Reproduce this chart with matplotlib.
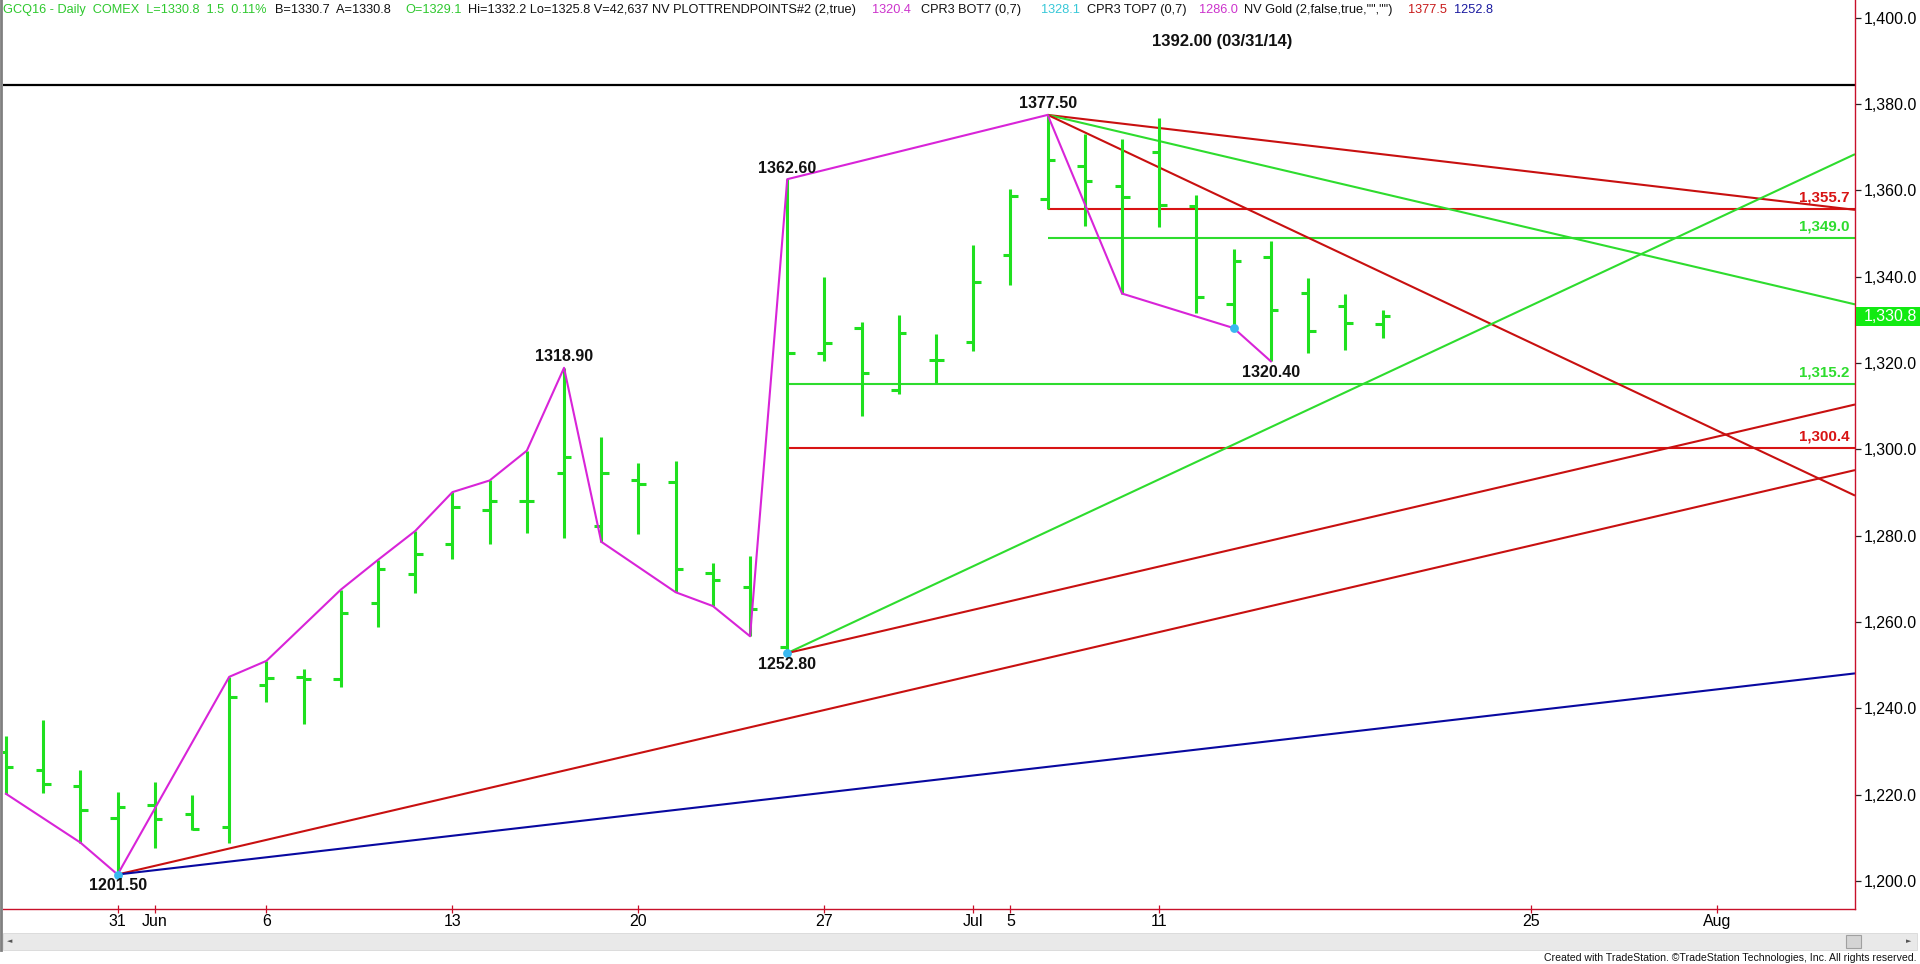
import matplotlib
matplotlib.use('Agg')
import matplotlib.pyplot as plt
import matplotlib.transforms as mtransforms
from matplotlib.patches import Rectangle
from matplotlib.lines import Line2D

plt.rcParams['font.family'] = ['Liberation Sans', 'DejaVu Sans']

# daily bars, index 0 = 25 May 2016 (trading days only)
opens = [1229.9, 1225.7, 1222.0, 1214.7, 1217.5, 1215.6, 1212.4, 1245.3, 1247.3, 1246.7,
         1264.3, 1271.2, 1278.1, 1285.9, 1288.0, 1294.6, 1282.2, 1293.0, 1292.5, 1271.4,
         1268.0, 1254.1, 1322.3, 1328.2, 1313.7, 1320.8, 1324.9, 1345.1, 1358.1, 1365.6,
         1361.1, 1368.9, 1356.3, 1333.8, 1344.5, 1336.3, 1333.3, 1329.1]
highs = [1233.5, 1237.2, 1225.7, 1220.7, 1223.0, 1220.0, 1247.3, 1251.0, 1249.2, 1267.5,
         1274.4, 1281.1, 1290.1, 1292.8, 1299.7, 1318.9, 1302.9, 1296.9, 1297.4, 1273.7,
         1275.2, 1362.6, 1340.0, 1329.6, 1331.2, 1326.7, 1347.3, 1360.4, 1377.5, 1373.1,
         1371.9, 1376.8, 1359.0, 1346.4, 1348.2, 1339.6, 1336.1, 1332.2]
lows = [1220.2, 1220.4, 1208.9, 1201.5, 1207.6, 1211.7, 1208.7, 1241.5, 1236.3, 1245.0,
        1258.8, 1266.8, 1274.7, 1278.1, 1280.7, 1279.5, 1278.6, 1280.4, 1266.9, 1263.7,
        1256.7, 1252.8, 1320.4, 1307.8, 1312.8, 1315.4, 1322.7, 1338.2, 1355.7, 1351.7,
        1336.1, 1351.5, 1331.5, 1328.1, 1320.4, 1322.3, 1323.0, 1325.8]
closes = [1226.4, 1222.5, 1216.5, 1217.2, 1214.4, 1212.1, 1242.7, 1247.1, 1246.7, 1262.0,
          1272.4, 1275.8, 1286.6, 1288.0, 1288.0, 1298.3, 1294.6, 1291.9, 1272.3, 1269.8,
          1263.0, 1322.3, 1324.6, 1317.7, 1326.9, 1320.6, 1338.8, 1358.8, 1367.0, 1362.2,
          1358.5, 1356.6, 1335.3, 1343.6, 1332.2, 1327.5, 1329.2, 1330.8]

date_idx = [3, 4, 7, 12, 17, 22, 26, 27, 31, 41, 46]
date_labels = ['31', 'Jun', '6', '13', '20', '27', 'Jul', '5', '11', '25', 'Aug']

# swing line through highs (H) / lows (L)
zig_idx = [0, 2, 3, 6, 7, 9, 10, 11, 12, 13, 14, 15, 16, 18, 19, 20, 21, 28, 30, 33, 34]
zig_side = ['L', 'L', 'L', 'H', 'H', 'H', 'H', 'H', 'H', 'H', 'H', 'H', 'L', 'L', 'L', 'L',
            'H', 'H', 'L', 'L', 'L']

pivot_idx = [3, 15, 21, 21, 28, 34]
pivot_side = ['L', 'H', 'H', 'L', 'H', 'L']
dot_idx = [3, 21, 33]

level_values = [1355.7, 1349.0, 1315.2, 1300.4]
level_start = [28, 28, 21, 21]
level_colors = ['#d81414', '#2edc2e', '#2edc2e', '#d81414']

# trend lines: start bar, start price, price at right edge
trend_start = [28, 28, 28, 21, 21, 3, 3]
trend_p0 = [1377.5, 1377.5, 1377.5, 1252.8, 1252.8, 1201.5, 1201.5]
trend_p1 = [1355.5, 1333.6, 1289.3, 1368.4, 1310.4, 1295.2, 1248.1]
trend_colors = ['#c81010', '#2edc2e', '#c81010', '#2edc2e', '#c81010', '#c81010', '#0808a0']

old_high = 1384.4
last_price = 1330.8

W, H = 1920, 964
X_LEFT, X_RIGHT = -0.08, 49.70
RED_AX = '#c8102a'
BAR_GREEN = '#1fe01f'

fig = plt.figure(figsize=(19.2, 9.64), dpi=100)
ax = fig.add_axes([3 / W, 1 - 908.7 / H, (1855 - 3) / W, 908.7 / H])
ax.set_xlim(X_LEFT, X_RIGHT)
ax.set_ylim(1193.58, 1404.12)

# horizontal reference / levels
ax.hlines(old_high, X_LEFT, X_RIGHT, color='black', lw=1.6, zorder=2)
for v, s, c in zip(level_values, level_start, level_colors):
    ax.hlines(v, s, X_RIGHT, color=c, lw=1.5, zorder=2)
    ax.annotate(f'{v:,.1f}', (X_RIGHT - 0.15, v), xytext=(0, 3), textcoords='offset points',
                ha='right', va='bottom', color=c, fontsize=10.9, fontweight='bold', zorder=6)

for s, p0, p1, c in zip(trend_start, trend_p0, trend_p1, trend_colors):
    ax.plot([s, X_RIGHT], [p0, p1], color=c, lw=1.5, zorder=2, solid_capstyle='butt')

# OHLC bars
xs = list(range(len(opens)))
ax.vlines(xs, lows, highs, color=BAR_GREEN, lw=2.2, zorder=3)
ax.hlines(opens, [x - 0.2 for x in xs], xs, color=BAR_GREEN, lw=2.2, zorder=3)
ax.hlines(closes, xs, [x + 0.2 for x in xs], color=BAR_GREEN, lw=2.2, zorder=3)

# swing line
zy = [highs[i] if s == 'H' else lows[i] for i, s in zip(zig_idx, zig_side)]
ax.plot(zig_idx, zy, color='#d824d8', lw=1.5, zorder=4)
ax.scatter(dot_idx, [lows[i] for i in dot_idx], s=40, color='#38b8f0', zorder=5, lw=0)

for i, s in zip(pivot_idx, pivot_side):
    v = highs[i] if s == 'H' else lows[i]
    off = 8 if s == 'H' else -8
    ax.annotate(f'{v:.2f}', (i, v), xytext=(0, off), textcoords='offset points',
                ha='center', va='center', fontsize=11.5, fontweight='bold', color='#111111', zorder=6)

ax.text(32.7, 1394.5, '1392.00 (03/31/14)', ha='center', va='center',
        fontsize=12, fontweight='bold', color='#111111')

# axes styling
for sp in ['top', 'left']:
    ax.spines[sp].set_visible(False)
for sp in ['right', 'bottom']:
    ax.spines[sp].set_color(RED_AX)
    ax.spines[sp].set_linewidth(1.0)
ax.yaxis.tick_right()
ax.set_yticks(range(1200, 1401, 20))
ax.set_yticklabels([f'{v:,.1f}' for v in range(1200, 1401, 20)])
ax.tick_params(axis='y', direction='out', length=4.5, width=0.9, color='#222222',
               labelsize=11.5, pad=1.5)
ax.set_xticks(date_idx)
ax.set_xticklabels(date_labels)
ax.tick_params(axis='x', direction='inout', length=6, width=0.9, color=RED_AX,
               labelsize=11.5, pad=1.0)

# last price marker
bt = mtransforms.blended_transform_factory(ax.transAxes, ax.transData)
ax.add_patch(Rectangle((1.0006, last_price - 2.1), 0.035, 4.2, transform=bt,
                       facecolor='#12ea12', edgecolor='none', clip_on=False, zorder=7))
ax.text(1.019, last_price, f'{last_price:,.1f}', transform=bt, ha='center', va='center',
        color='white', fontsize=11.5, clip_on=False, zorder=8)

# header line
header = [
    (3, 'GCQ16 - Daily  COMEX  L=1330.8  1.5  0.11%', '#2ec82e'),
    (275, 'B=1330.7  A=1330.8', '#111111'),
    (405, 'O=1329.1', '#2ec82e'),
    (468, 'Hi=1332.2 Lo=1325.8 V=42,637 NV PLOTTRENDPOINTS#2 (2,true)', '#111111'),
    (872, '1320.4', '#cc33cc'),
    (921, 'CPR3 BOT7 (0,7)', '#111111'),
    (1041, '1328.1', '#38c8d8'),
    (1087, 'CPR3 TOP7 (0,7)', '#111111'),
    (1199, '1286.0', '#cc33cc'),
    (1244, 'NV Gold (2,false,true,"","")', '#111111'),
    (1408, '1377.5', '#c81a1a'),
    (1454, '1252.8', '#1a1aa0'),
]
for x, t, c in header:
    fig.text(x / W, 1 - 10 / H, t, ha='left', va='center', fontsize=9.2, color=c)

# left border, scrollbar and footer
fig.add_artist(Line2D([1 / W, 1 / W], [1 - 950 / H, 1], color='#808080', lw=2))
fig.add_artist(Rectangle((3 / W, 1 - 950 / H), 1914 / W, 17 / H, facecolor='#e9e9e9',
                         edgecolor='#d8d8d8', lw=0.6))
fig.add_artist(Rectangle((1846 / W, 1 - 948 / H), 15 / W, 13 / H, facecolor='#d4d4d4',
                         edgecolor='#a0a0a0', lw=0.8))
fig.text(10 / W, 1 - 941 / H, '◄', fontsize=5, color='#555555', va='center', ha='center',
         family='DejaVu Sans')
fig.text(1909 / W, 1 - 941 / H, '►', fontsize=5, color='#555555', va='center', ha='center',
         family='DejaVu Sans')
fig.text(1917 / W, 1 - 958 / H,
         'Created with TradeStation. ©TradeStation Technologies, Inc. All rights reserved.',
         ha='right', va='center', fontsize=7.6, color='#111111')

fig.savefig('out.png', dpi=100, facecolor='white')
